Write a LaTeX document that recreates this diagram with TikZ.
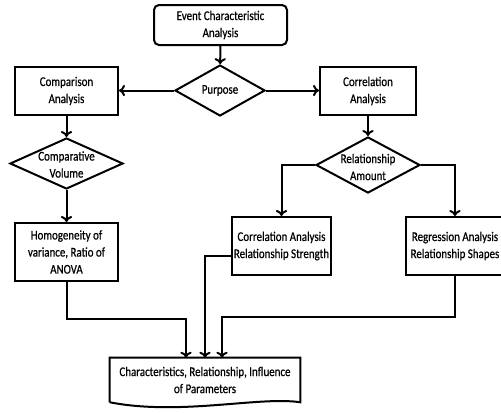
\documentclass[tikz,border=0pt]{standalone}
\usepackage{fontspec}
\setmainfont[FakeStretch=0.82,FakeBold=0.6]{Carlito}
\usetikzlibrary{arrows.meta,shapes.geometric}

\newlength{\du}
\setlength{\du}{0.75pt}

\tikzset{
  txt/.style={align=center, inner sep=0pt, font=\fontsize{10}{12.8}\selectfont},
  stepbox/.style={txt, draw, line width=2\du},
  decision/.style={draw, diamond, inner sep=0pt, line width=2\du},
  flow/.style={line width=2\du, -{To[length=4.5pt,width=8.5pt]}},
}

\begin{document}
\begin{tikzpicture}[x=\du,y=-\du]
\useasboundingbox (0,0) rectangle (501,412);
\node[stepbox, rounded corners=5\du, minimum width=133\du, minimum height=40\du] (event) at (220.5,25) {Event Characteristic\\Analysis};
\node[decision, minimum width=90\du, minimum height=51\du] (purpose) at (220,90.5) {};
\node[txt] at (purpose) {Purpose};
\node[stepbox, minimum width=103\du, minimum height=48\du] (compare) at (66.5,91) {Comparison\\Analysis};
\node[stepbox, minimum width=96\du, minimum height=48\du] (correl) at (368,91) {Correlation\\Analysis};
\node[decision, minimum width=113\du, minimum height=51\du] (volume) at (66.5,163.5) {};
\node[txt] at ([yshift=-1\du]volume) {Comparative\\Volume};
\node[decision, minimum width=104\du, minimum height=56\du] (amount) at (368,165) {};
\node[txt] at ([yshift=-2\du]amount) {Relationship\\Amount};
\node[stepbox, minimum width=103\du, minimum height=58\du] (homog) at (66.5,252) {Homogeneity of\\variance, Ratio of\\ANOVA};
\node[stepbox, minimum width=99\du, minimum height=58\du] (strength) at (281.5,246) {Correlation Analysis\\Relationship Strength};
\node[stepbox, minimum width=98\du, minimum height=58\du] (regress) at (455,246) {Regression Analysis\\Relationship Shapes};
\node[txt, minimum width=190\du, minimum height=44\du] (result) at (205,380) {Characteristics, Relationship, Influence\\of Parameters};
\draw[line width=2\du] (result.south west) -- (result.north west) -- (result.north east) -- (result.south east)
  .. controls (260,396) and (180,416) .. (result.south west);

\draw[flow] (event) -- (purpose);
\draw[flow] (purpose.west) -- (purpose.west -| compare.east);
\draw[flow] (purpose.east) -- (purpose.east -| correl.west);
\draw[flow] (compare) -- (volume);
\draw[flow] (correl) -- (amount);
\draw[flow] (amount.west) -| (strength.north);
\draw[flow] (amount.east) -| (regress.north);
\draw[flow] (volume) -- (homog);
\draw[flow] (homog.south) -- ++(0,37) -| ([xshift=-19\du]result.north);
\draw[flow] ([yshift=-10\du]strength.west) -| (result.north);
\draw[flow] (regress.south) -- ++(0,41) -| ([xshift=17\du]result.north);
\end{tikzpicture}
\end{document}
